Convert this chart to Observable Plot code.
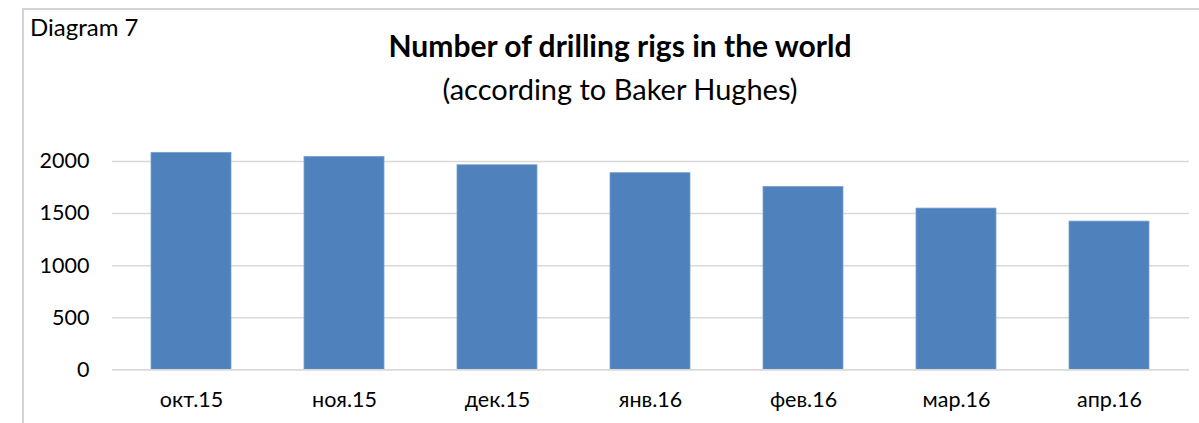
<!DOCTYPE html>
<html>
<head>
<meta charset="utf-8">
<script src="https://cdn.jsdelivr.net/npm/d3@7"></script>
<script src="https://cdn.jsdelivr.net/npm/@observablehq/plot@0.6"></script>
<style>
  html, body { margin: 0; padding: 0; background: #fff; }
  #wrap { position: relative; width: 1199px; height: 423px; overflow: hidden; font-family: Lato, "Open Sans", sans-serif; color: #000; background: #fff; }
  #frame { position: absolute; left: 22px; top: 8px; width: 1200px; height: 430px; border-left: 2px solid #d4d4d4; border-top: 2px solid #d4d4d4; box-sizing: border-box; }
  .txt { position: absolute; white-space: nowrap; line-height: 1; }
  #diag { left: 30px; top: 15px; font-size: 24px; }
  #title { left: 0; width: 1240px; text-align: center; top: 30px; font-size: 30px; font-weight: bold; }
  #subtitle { left: 0; width: 1240px; text-align: center; top: 74px; font-size: 29px; }
  #chart { position: absolute; left: 0; top: 130px; clip-path: inset(0 0 0 26px); }
</style>
</head>
<body>
<div id="wrap">
  <div id="frame"></div>
  <div class="txt" id="diag">Diagram 7</div>
  <div class="txt" id="title">Number of drilling rigs in the world</div>
  <div class="txt" id="subtitle">(according to Baker Hughes)</div>
  <div id="chart"></div>
</div>
<script>
const months = ["окт.15", "ноя.15", "дек.15", "янв.16", "фев.16", "мар.16", "апр.16"];
const rigs = [2083, 2044, 1964, 1888, 1756, 1548, 1423];
const yTicks = [0, 500, 1000, 1500, 2000];

const data = months.map((m, i) => ({month: m, rigs: rigs[i]}));

// category boundary ticks below the baseline
function boundaryTicks(index, scales, values, dims) {
  const x = scales.x, y = scales.y;
  const step = x(months[1]) - x(months[0]);
  const gap = (step - x.bandwidth) / 2;
  const y0 = y(0);
  const g = d3.create("svg:g");
  const bounds = months.map(m => x(m) - gap).concat([x(months[months.length - 1]) + x.bandwidth + gap]);
  g.selectAll("line").data(bounds).join("line")
    .attr("x1", d => d).attr("x2", d => d)
    .attr("y1", y0).attr("y2", y0 + 8)
    .attr("stroke", "#d9d9d9").attr("stroke-width", 1.5);
  return g.node();
}

const plot = Plot.plot({
  width: 1199,
  height: 293,
  marginLeft: 112,
  marginRight: 10,
  marginTop: 31,
  marginBottom: 53.7,
  style: {fontFamily: "Lato, 'Open Sans', sans-serif", fontSize: "22px", color: "#000", background: "none"},
  x: {domain: months, paddingInner: 0.474, paddingOuter: 0.237, label: null},
  y: {domain: [0, 2000], label: null},
  marks: [
    Plot.gridY(yTicks, {stroke: "#d9d9d9", strokeOpacity: 1, strokeWidth: 1.5}),
    Plot.barY(data, {x: "month", y: "rigs", fill: "#4f81bd", stroke: "#7aa0d0", strokeWidth: 0.8}),
    Plot.ruleY([0], {stroke: "#d9d9d9", strokeWidth: 1.5}),
    boundaryTicks,
    Plot.axisY(yTicks, {tickSize: 0, tickPadding: 23, fontSize: 21.5, tickFormat: d3.format("d"), label: null}),
    Plot.axisX({tickSize: 0, tickPadding: 22, fontSize: 21.5, label: null})
  ]
});
document.getElementById("chart").appendChild(plot);
</script>
</body>
</html>
